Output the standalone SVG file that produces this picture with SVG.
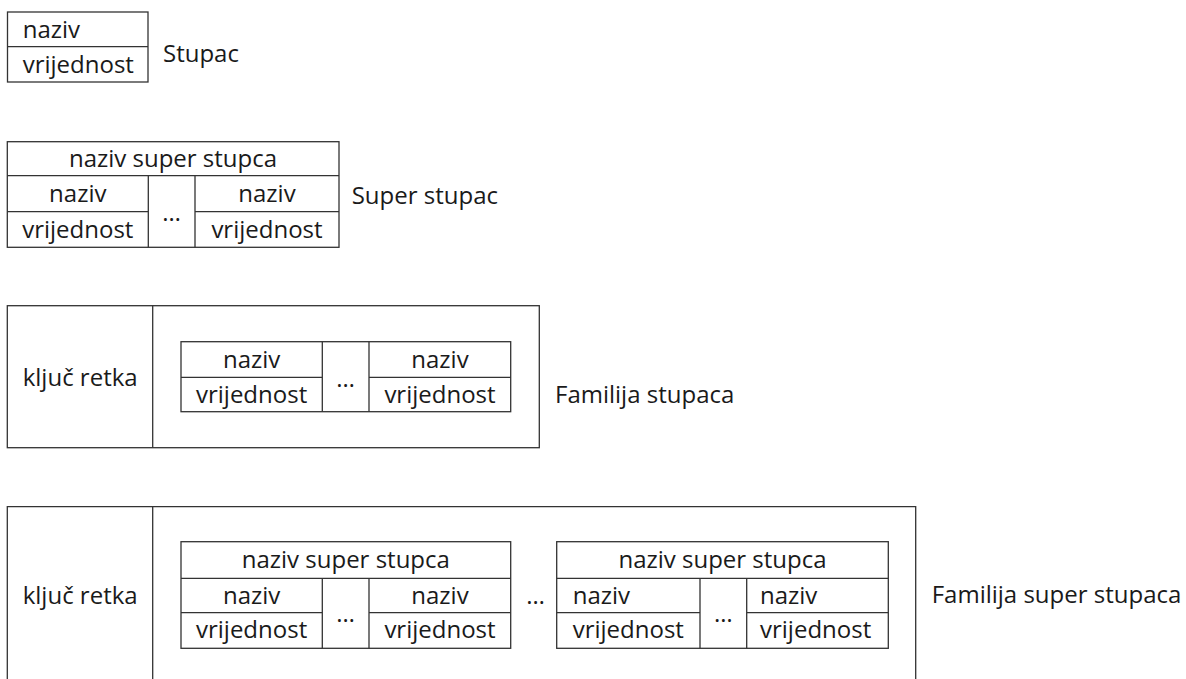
<svg xmlns="http://www.w3.org/2000/svg" width="1186" height="679" viewBox="0 0 1186 679">
<style>
.b{fill:none;stroke:#333;stroke-width:1.3}
text{font-family:"Open Sans","Liberation Sans",sans-serif;font-size:24px;fill:#1a1a1a}
.c{text-anchor:middle}
</style>
<rect width="1186" height="679" fill="#fff"/>
<g id="stupac">
<rect class="b" x="7.5" y="12" width="140.5" height="70"/>
<line class="b" x1="7.5" y1="46.7" x2="148" y2="46.7"/>
<text x="22.7" y="37.7">naziv</text>
<text x="22.7" y="72.7">vrijednost</text>
<text x="163" y="61.7">Stupac</text>
</g>
<g id="super-stupac">
<rect class="b" x="7.3" y="141.7" width="331.7" height="105.6"/>
<path class="b" d="M7.3 175.7H339M7.3 211.7H148.3M195 211.7H339M148.3 175.7V247.3M195 175.7V247.3"/>
<text class="c" x="173" y="166.7">naziv super stupca</text>
<text class="c" x="77.8" y="201.7">naziv</text>
<text class="c" x="77.8" y="237.7">vrijednost</text>
<text class="c" x="171.7" y="220.7">…</text>
<text class="c" x="267" y="201.7">naziv</text>
<text class="c" x="267" y="237.7">vrijednost</text>
<text x="351.7" y="204.3">Super stupac</text>
</g>
<g id="familija-stupaca">
<rect class="b" x="7.3" y="305.7" width="532" height="142"/>
<line class="b" x1="152.7" y1="305.7" x2="152.7" y2="447.7"/>
<text x="22.7" y="386">ključ retka</text>
<rect class="b" x="181" y="341.7" width="329.7" height="70"/>
<path class="b" d="M181 377.3H322.3M369 377.3H510.7M322.3 341.7V411.7M369 341.7V411.7"/>
<text class="c" x="251.6" y="368.3">naziv</text>
<text class="c" x="251.6" y="403">vrijednost</text>
<text class="c" x="345.7" y="387">…</text>
<text class="c" x="440" y="368.3">naziv</text>
<text class="c" x="440" y="403">vrijednost</text>
<text x="555" y="403">Familija stupaca</text>
</g>
<g id="familija-super-stupaca">
<path class="b" d="M7.3 690V506.7H915.7V690M152.7 506.7V690"/>
<text x="22.7" y="604">ključ retka</text>
<g id="ss1">
<rect class="b" x="181" y="541.7" width="329.7" height="106.6"/>
<path class="b" d="M181 578.3H510.7M181 612.7H322.3M369 612.7H510.7M322.3 578.3V648.3M369 578.3V648.3"/>
<text class="c" x="345.8" y="568.3">naziv super stupca</text>
<text class="c" x="251.6" y="604.3">naziv</text>
<text class="c" x="251.6" y="638.3">vrijednost</text>
<text class="c" x="345.7" y="621.7">…</text>
<text class="c" x="440" y="604.3">naziv</text>
<text class="c" x="440" y="638.3">vrijednost</text>
</g>
<text class="c" x="535.5" y="604">…</text>
<g id="ss2">
<rect class="b" x="556.7" y="541.7" width="331.6" height="106.6"/>
<path class="b" d="M556.7 578.3H888.3M556.7 612.7H700M746.7 612.7H888.3M700 578.3V648.3M746.7 578.3V648.3"/>
<text class="c" x="722.5" y="568.3">naziv super stupca</text>
<text x="572.7" y="604.3">naziv</text>
<text x="572.7" y="638.3">vrijednost</text>
<text class="c" x="723.3" y="621.7">…</text>
<text x="760" y="604.3">naziv</text>
<text x="760" y="638.3">vrijednost</text>
</g>
<text x="931.7" y="603.3">Familija super stupaca</text>
</g>
</svg>
